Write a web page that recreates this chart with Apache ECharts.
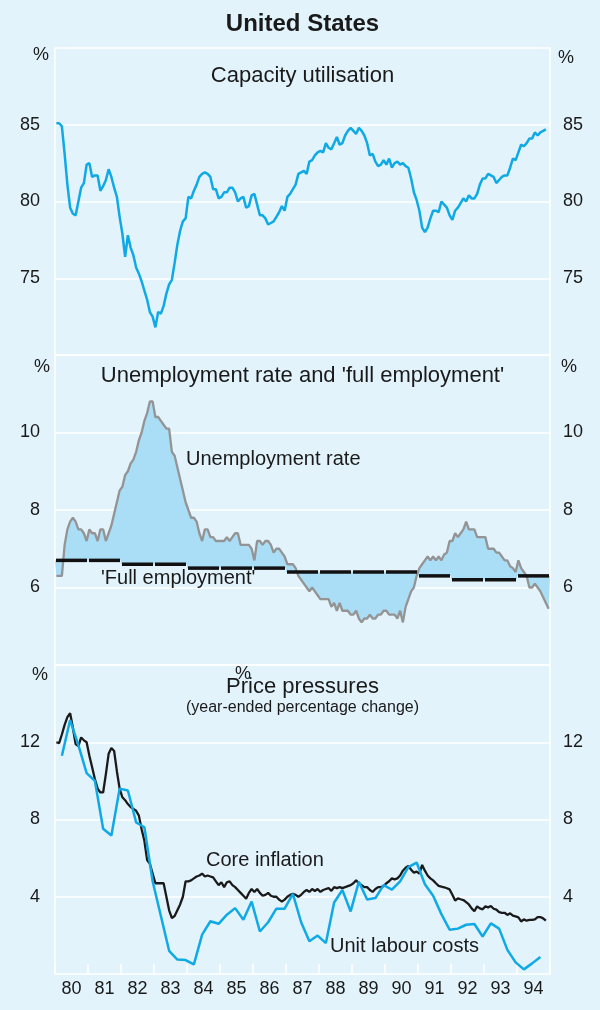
<!DOCTYPE html>
<html>
<head>
<meta charset="utf-8">
<title>United States</title>
<script src="https://cdn.jsdelivr.net/npm/echarts@6/dist/echarts.min.js"></script>
<style>
    html, body { margin: 0; padding: 0; background: #E2F3FC; }
    #chart { width: 600px; height: 1010px; }
</style>
</head>
<body>
<div id="chart"></div>
<script>
// x axis labels, one per calendar year
var yearLabels = ['80', '81', '82', '83', '84', '85', '86', '87', '88', '89', '90', '91', '92', '93', '94'];

// capacity utilisation, monthly from Jan 1980 (%)
var capacity = [
    85.1, 85.1, 84.9, 83.1, 81.1, 79.6, 79.2, 79.1, 80.0, 80.9, 81.2, 82.4,
    82.5, 81.6, 81.7, 81.7, 80.7, 81.0, 81.4, 82.1, 81.6, 80.9, 80.3, 79.0,
    77.9, 76.4, 77.8, 77.0, 76.5, 75.7, 75.3, 74.8, 74.2, 73.6, 72.8, 72.5,
    71.8, 72.8, 72.7, 73.2, 74.0, 74.6, 74.9, 76.0, 77.2, 78.1, 78.7, 78.9,
    80.3, 80.2, 80.7, 81.1, 81.6, 81.8, 81.9, 81.8, 81.6, 80.8, 80.8, 80.2,
    80.3, 80.6, 80.6, 80.9, 80.9, 80.6, 80.0, 80.2, 80.3, 79.6, 79.7, 80.4,
    80.5, 79.8, 79.1, 79.1, 78.9, 78.5, 78.6, 78.7, 79.0, 79.3, 79.7, 79.4,
    80.3, 80.5, 80.8, 81.1, 81.8, 81.9, 82.0, 81.8, 82.6, 82.7, 83.0, 83.2,
    83.3, 83.2, 83.8, 83.5, 83.4, 83.8, 84.2, 83.7, 83.8, 84.3, 84.6, 84.8,
    84.6, 84.4, 84.8, 84.6, 84.3, 83.8, 83.0, 83.1, 82.6, 82.3, 82.4, 82.7,
    82.4, 82.8, 82.2, 82.5, 82.6, 82.4, 82.5, 82.3, 82.2, 81.5, 80.6, 80.1,
    79.4, 78.3, 78.0, 78.3, 78.9, 79.4, 79.4, 79.3, 80.0, 79.8, 79.6, 79.1,
    78.8, 79.4, 79.6, 79.9, 80.2, 80.0, 80.4, 80.2, 80.2, 80.5, 81.1, 81.5,
    81.5, 81.8, 81.7, 81.6, 81.2, 81.4, 81.6, 81.7, 81.7, 82.2, 82.8, 82.7,
    83.2, 83.7, 83.6, 83.8, 84.1, 84.1, 84.5, 84.3, 84.5, 84.6, 84.7
];

// unemployment rate, monthly from Jan 1980 (%)
var unemployment = [
    6.3, 6.3, 6.3, 7.1, 7.5, 7.7, 7.8, 7.7, 7.5, 7.5, 7.4, 7.2,
    7.5, 7.4, 7.4, 7.2, 7.5, 7.5, 7.2, 7.4, 7.6, 7.9, 8.2, 8.5,
    8.6, 8.9, 9.0, 9.2, 9.3, 9.5, 9.8, 10.0, 10.3, 10.5, 10.8, 10.8,
    10.4, 10.4, 10.3, 10.2, 10.1, 10.1, 9.5, 9.4, 9.1, 8.8, 8.5, 8.2,
    8.0, 7.8, 7.8, 7.7, 7.4, 7.2, 7.5, 7.5, 7.3, 7.3, 7.2, 7.2,
    7.2, 7.2, 7.3, 7.2, 7.3, 7.4, 7.4, 7.1, 7.1, 7.1, 7.1, 7.0,
    6.7, 7.2, 7.2, 7.1, 7.2, 7.2, 7.1, 6.9, 7.0, 7.0, 6.9, 6.8,
    6.6, 6.6, 6.6, 6.5, 6.3, 6.2, 6.1, 6.0, 5.9, 6.0, 5.9, 5.8,
    5.7, 5.7, 5.7, 5.7, 5.5, 5.6, 5.4, 5.6, 5.4, 5.4, 5.4, 5.3,
    5.3, 5.4, 5.2, 5.1, 5.2, 5.2, 5.3, 5.2, 5.2, 5.3, 5.3, 5.4,
    5.4, 5.3, 5.3, 5.3, 5.2, 5.4, 5.1, 5.5, 5.7, 5.9, 6.0, 6.3,
    6.5, 6.6, 6.7, 6.8, 6.7, 6.8, 6.7, 6.8, 6.7, 6.85, 6.9, 7.2,
    7.2, 7.4, 7.3, 7.4, 7.5, 7.7, 7.5, 7.5, 7.5, 7.3, 7.3, 7.3,
    7.3, 7.0, 7.0, 7.0, 6.9, 6.9, 6.8, 6.7, 6.7, 6.55, 6.5, 6.4,
    6.7, 6.5, 6.4, 6.3, 6.0, 6.0, 6.1, 6.0, 5.9, 5.75, 5.6, 5.45
];

// 'full employment' rate, one value per year 1980-1994 (%)
var fullEmployment = [6.7, 6.7, 6.6, 6.6, 6.5, 6.5, 6.5, 6.4, 6.4, 6.4, 6.4, 6.3, 6.2, 6.2, 6.3];

// core inflation, monthly from Jan 1980 (year-ended %)
var coreInflation = [
    12.0, 11.95, 12.4, 12.9, 13.3, 13.5, 12.75, 11.9, 11.8, 12.25, 12.1, 12.0,
    11.3, 10.7, 10.1, 9.6, 9.4, 9.4, 10.35, 11.4, 11.7, 11.55, 10.5, 9.6,
    9.15, 9.0, 8.8, 8.65, 8.55, 8.45, 8.2, 7.5, 6.9, 5.9, 5.7, 5.2,
    4.7, 4.7, 4.7, 4.7, 4.0, 3.3, 2.9, 3.0, 3.3, 3.6, 4.0, 4.8,
    4.8, 4.85, 4.95, 5.05, 5.1, 5.2, 5.05, 5.1, 5.05, 5.0, 4.8, 4.6,
    4.75, 4.5, 4.75, 4.8, 4.6, 4.5, 4.35, 4.2, 4.05, 3.9, 4.2, 4.4,
    4.25, 4.4, 4.2, 4.05, 4.1, 4.2, 4.05, 4.0, 4.0, 3.85, 3.75, 3.85,
    4.0, 4.1, 4.15, 4.1, 4.0, 4.1, 4.25, 4.35, 4.25, 4.4, 4.3, 4.4,
    4.25, 4.35, 4.4, 4.45, 4.3, 4.5, 4.45, 4.5, 4.45, 4.5, 4.55, 4.6,
    4.7, 4.85, 4.7, 4.6, 4.5, 4.5, 4.35, 4.25, 4.4, 4.5, 4.5, 4.55,
    4.7, 4.8, 4.95, 4.9, 4.95, 5.1, 5.35, 5.5, 5.6, 5.4, 5.25, 5.3,
    5.2, 5.65, 5.35, 5.1, 4.95, 4.85, 4.7, 4.56, 4.52, 4.49, 4.44, 4.38,
    4.1, 3.8, 3.92, 3.87, 3.83, 3.72, 3.6, 3.4, 3.25, 3.5, 3.4, 3.35,
    3.5, 3.45, 3.52, 3.38, 3.33, 3.2, 3.17, 3.17, 3.06, 3.14, 3.02, 2.98,
    2.93, 2.72, 2.83, 2.76, 2.8, 2.8, 2.83, 2.95, 2.95, 2.88, 2.76
];

// unit labour costs, quarterly from Q1 1980 (year-ended %)
var unitLabourCosts = [
    11.3, 13.15, 11.85, 10.4, 10.0, 7.52, 7.17, 9.6, 9.5, 7.85, 7.6, 4.8,
    3.0, 1.2, 0.75, 0.72, 0.5, 2.04, 2.73, 2.6, 3.07, 3.41, 2.81, 3.75,
    2.2, 2.68, 3.38, 3.38, 4.15, 2.68, 1.7, 1.99, 1.6, 3.7, 4.35, 3.24,
    4.78, 3.86, 3.93, 4.6, 4.37, 4.8, 5.53, 5.77, 4.65, 4.05, 3.1, 2.29,
    2.35, 2.55, 2.59, 1.94, 2.62, 2.35, 1.25, 0.6, 0.24, 0.55, 0.88
];

var startYear = 1980, endYear = 1995;
var bg = '#E2F3FC', blue = '#0FA9E5', grey = '#949494', shade = '#AADEF6', ink = '#1A1A1A';
var font = '"Liberation Sans", Arial, Helvetica, sans-serif';

// monthly points sit mid-month, quarterly points in the last month of the quarter
function monthly(values) {
    return values.map(function (v, i) { return [startYear + (i + 0.5) / 12, v]; });
}
function quarterly(values) {
    return values.map(function (v, i) { return [startYear + (3 * i + 2.5) / 12, v]; });
}

function timeAxis(gridIndex, ticks) {
    return {
        type: 'value', gridIndex: gridIndex, min: startYear, max: endYear, interval: 1,
        axisLine: {show: false},
        axisTick: {show: ticks, inside: true, length: 10, lineStyle: {color: '#fff', width: 1.5}},
        axisLabel: {show: false},
        splitLine: {show: false}
    };
}

function valueAxis(gridIndex, pos, min, max, interval) {
    return {
        type: 'value', gridIndex: gridIndex, position: pos, min: min, max: max, interval: interval,
        axisLine: {show: true, lineStyle: {color: '#fff', width: 1.5}},
        axisTick: {show: false},
        splitLine: {show: pos === 'left', lineStyle: {color: '#fff', width: 1.5}},
        axisLabel: {
            color: ink, fontSize: 18, fontFamily: font,
            margin: pos === 'left' ? 15 : 13,
            align: pos === 'left' ? 'right' : 'left',
            formatter: function (v) { return (v === min || v === max) ? '' : v; }
        }
    };
}

function label(text, x, y, size, align, weight) {
    return {
        type: 'text', x: x, y: y, z: 100, silent: true,
        style: {
            text: text, fill: ink, align: align || 'center', verticalAlign: 'middle',
            font: (weight || 'normal') + ' ' + size + 'px ' + font
        }
    };
}

var chart = echarts.init(document.getElementById('chart'));

var option = {
    backgroundColor: bg,
    animation: false,
    grid: [
        {left: 55, right: 50, top: 48, height: 307},
        {left: 55, right: 50, top: 355, height: 310},
        {left: 55, right: 50, top: 665, height: 309}
    ],
    xAxis: [
        timeAxis(0, false),
        timeAxis(1, false),
        timeAxis(2, true),
        {
            type: 'category', gridIndex: 2, position: 'bottom', data: yearLabels, boundaryGap: true,
            axisLine: {show: false}, axisTick: {show: false}, splitLine: {show: false},
            axisLabel: {color: ink, fontSize: 18, fontFamily: font, margin: 6}
        }
    ],
    yAxis: [
        valueAxis(0, 'left', 70, 90, 5),
        valueAxis(0, 'right', 70, 90, 5),
        valueAxis(1, 'left', 4, 12, 2),
        valueAxis(1, 'right', 4, 12, 2),
        valueAxis(2, 'left', 0, 16, 4),
        valueAxis(2, 'right', 0, 16, 4)
    ],
    series: [
        {
            name: 'Capacity utilisation', type: 'line', xAxisIndex: 0, yAxisIndex: 0,
            data: monthly(capacity), showSymbol: false, z: 3,
            lineStyle: {color: blue, width: 2.5}
        },
        {
            // shading between the unemployment rate and the 'full employment' steps
            name: 'gap', type: 'custom', xAxisIndex: 1, yAxisIndex: 2, silent: true, z: 1,
            data: [[startYear, fullEmployment[0]]],
            renderItem: function (params, api) {
                var pts = [];
                unemployment.forEach(function (v, i) {
                    pts.push(api.coord([startYear + (i + 0.5) / 12, v]));
                });
                for (var k = fullEmployment.length - 1; k >= 0; k--) {
                    pts.push(api.coord([startYear + k + 1, fullEmployment[k]]));
                    pts.push(api.coord([startYear + k, fullEmployment[k]]));
                }
                return {type: 'polygon', shape: {points: pts}, style: {fill: shade}};
            }
        },
        {
            name: 'Unemployment rate', type: 'line', xAxisIndex: 1, yAxisIndex: 2,
            data: monthly(unemployment), showSymbol: false, z: 3,
            lineStyle: {color: grey, width: 2.3}
        },
        {
            name: 'Full employment', type: 'custom', xAxisIndex: 1, yAxisIndex: 2, z: 4,
            data: fullEmployment.map(function (v, k) { return [startYear + k, v]; }),
            renderItem: function (params, api) {
                var yr = api.value(0), v = api.value(1);
                var a = api.coord([yr, v]), b = api.coord([yr + 1, v]);
                return {
                    type: 'line',
                    shape: {x1: a[0] + 1, y1: a[1], x2: b[0] - 1, y2: b[1]},
                    style: {stroke: '#111', lineWidth: 3.5}
                };
            }
        },
        {
            name: 'Core inflation', type: 'line', xAxisIndex: 2, yAxisIndex: 4,
            data: monthly(coreInflation), showSymbol: false, z: 3,
            lineStyle: {color: ink, width: 2.3}
        },
        {
            name: 'Unit labour costs', type: 'line', xAxisIndex: 2, yAxisIndex: 4,
            data: quarterly(unitLabourCosts), showSymbol: false, z: 4,
            lineStyle: {color: blue, width: 2.5}
        }
    ],
    graphic: [
        label('United States', 302.5, 24, 24, 'center', 'bold'),
        label('Capacity utilisation', 302.5, 76, 22),
        label("Unemployment rate and 'full employment'", 302.5, 376, 22),
        label('Price pressures', 302.5, 687, 22),
        label('(year-ended percentage change)', 302.5, 708, 16),
        label('Unemployment rate', 186, 459, 20, 'left'),
        label("'Full employment'", 101, 578, 20, 'left'),
        label('Core inflation', 206, 860, 20, 'left'),
        label('Unit labour costs', 330, 946, 20, 'left'),
        label('%', 41, 55, 18),
        label('%', 566, 58, 18),
        label('%', 42, 367, 18),
        label('%', 569, 367, 18),
        label('%', 40, 675, 18),
        label('%', 243, 674, 18)
    ]
};

chart.setOption(option);
</script>
</body>
</html>
